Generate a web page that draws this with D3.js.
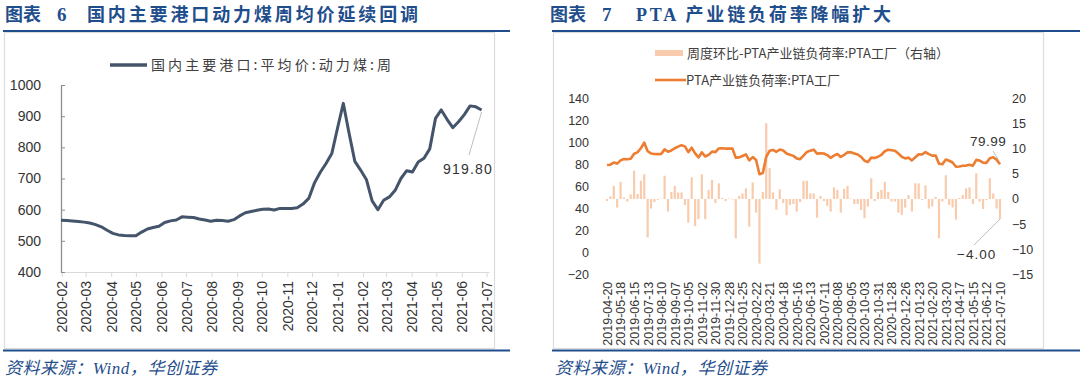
<!DOCTYPE html>
<html><head><meta charset="utf-8">
<script src="https://cdn.jsdelivr.net/npm/d3@7"></script>
<style>body{margin:0;background:#fff}svg{display:block}</style>
</head><body><svg id="c" width="1080" height="391"></svg>
<script>
// ---------- data: left chart (weekly coal price) ----------
const coalStartDate = "2020-01-31";
const coalPrice = [566,565,564,562,560,557,552,545,534,524,519,517,516,516,528,538,543,547,559,564,
  567,577,576,575,570,567,563,566,565,563,568,580,590,594,598,601,602,599,604,604,
  604,606,618,636,686,720,748,780,862,941,845,755,727,697,628,600,630,641,662,700,
  725,721,753,765,795,893,920,890,863,882,905,933,930,919.8];
const coalYTicks = [400,500,600,700,800,900,1000];
const coalMonthTicks = ["2020-02","2020-03","2020-04","2020-05","2020-06","2020-07","2020-08","2020-09","2020-10","2020-11","2020-12","2021-01","2021-02","2021-03","2021-04","2021-05","2021-06","2021-07"];
const coalSeriesName = "国内主要港口:平均价:动力煤:周";

// ---------- data: right chart (PTA load rate) ----------
const ptaStartDate = "2019-04-20";
const ptaLoad = [79.3,79.6,81.5,80.6,83.5,84.8,84.5,85.0,89.5,90.8,94.5,99.5,91.8,89.8,89.3,89.2,89.4,93.5,91.3,92.5,
  94.5,96.0,97.3,96.2,91.0,95.0,89.8,86.2,90.8,87.0,88.5,91.5,91.0,94.3,94.5,94.2,94.3,94.2,86.0,86.2,
  87.5,89.0,83.5,86.5,83.8,71.0,72.0,86.8,92.2,93.0,91.3,93.3,92.5,89.8,88.6,87.6,85.3,84.6,87.8,91.2,
  92.3,93.2,89.6,90.0,89.7,88.3,85.8,87.8,89.3,86.6,88.4,90.8,90.8,89.8,88.8,86.7,83.2,82.0,86.0,85.6,
  86.8,88.6,91.8,93.2,92.7,92.2,89.7,86.8,85.3,86.0,83.5,86.3,89.0,88.8,91.0,89.2,87.8,88.0,80.5,80.0,
  84.3,83.2,81.6,77.8,78.0,78.6,78.8,79.6,78.7,84.0,83.3,81.4,81.3,85.5,86.3,84.2,79.99];
const ptaWoW = [-0.4,0.5,2.6,-1.7,3.4,0.3,-0.5,0.9,5.6,1.0,3.6,4.9,-7.6,-1.9,-0.6,-0.2,0.1,4.6,-2.5,1.4,
  2.6,1.3,1.3,-1.2,-4.7,4.3,-5.4,-4.0,4.9,-4.0,1.8,3.8,-0.8,3.1,0.2,-0.4,0.1,-0.1,-7.8,0.6,
  1.1,2.1,-5.5,3.3,-2.7,-12.8,1.4,15.0,6.1,1.3,-2.1,1.9,-0.8,-3.2,-1.2,-1.0,-2.5,-0.6,3.6,3.6,
  1.1,1.1,-3.7,0.6,-0.4,-1.4,-2.5,2.3,1.8,-2.7,2.0,2.6,0.1,-1.0,-1.0,-2.2,-3.8,-1.5,4.1,-0.4,
  1.4,1.8,3.4,1.4,-0.5,-0.5,-2.7,-3.2,-1.7,0.8,-2.5,3.1,3.1,-0.2,2.7,-1.9,-1.5,0.4,-7.8,-0.5,
  4.7,-1.2,-1.7,-4.1,0.2,0.8,2.1,2.3,-1.0,5.1,-0.5,-2.0,-0.2,4.1,1.1,-1.9,-4.0];
const ptaLeftTicks = [-20,0,20,40,60,80,100,120,140];
const ptaRightTicks = [-15,-10,-5,0,5,10,15,20];
const ptaBarName = "周度环比-PTA产业链负荷率:PTA工厂（右轴）";
const ptaLineName = "PTA产业链负荷率:PTA工厂";

// ---------- drawing ----------
const svg = d3.select("#c");
const BLUE = "#1f4e8c";
const CJK = "'Noto Sans CJK SC', sans-serif";
const LAT = "'Liberation Sans', Arial, sans-serif";

function frame(ruleX0, ruleX1, boxX0, boxX1) {
  svg.append("rect").attr("x", boxX0 + 0.5).attr("y", 32.5).attr("width", boxX1 - boxX0).attr("height", 316)
    .attr("fill", "none").attr("stroke", "#dcdcdc").attr("stroke-width", 1.2);
  [31, 350.5].forEach(y => svg.append("line").attr("x1", ruleX0).attr("x2", ruleX1).attr("y1", y).attr("y2", y)
    .attr("stroke", BLUE).attr("stroke-width", 2));
}
frame(3, 510, 4, 494);
frame(552, 1080, 553, 1043);

function title(x, num, text, textX, textLen) {
  const g = svg.append("g").attr("fill", BLUE).attr("font-weight", 700);
  g.append("text").attr("x", x).attr("y", 21).attr("font-family", CJK).attr("font-size", 18).text("图表");
  g.append("text").attr("x", x + 52).attr("y", 21).attr("font-family", "'Liberation Serif', serif").attr("font-size", 19).text(num);
  g.append("text").attr("x", textX).attr("y", 21).attr("font-family", "'Liberation Serif', " + CJK).attr("font-size", 18)
    .attr("textLength", textLen).attr("lengthAdjust", "spacing").text(text);
}
title(5, "6", "国内主要港口动力煤周均价延续回调", 87, 331);
title(550, "7", "PTA 产业链负荷率降幅扩大", 636, 255);

function source(x) {
  svg.append("text").attr("x", x).attr("y", 374).attr("fill", BLUE).attr("font-size", 17).attr("font-style", "italic")
    .attr("font-family", "'Liberation Serif', " + CJK)
    .attr("textLength", 212).attr("lengthAdjust", "spacing").text("资料来源：Wind，华创证券");
}
source(5); source(555);

// ===== left chart =====
const parse = d3.utcParse("%Y-%m-%d");
const c0 = parse(coalStartDate);
const coalDates = coalPrice.map((_, i) => d3.utcDay.offset(c0, 7 * i));
const xL = d3.scaleUtc().domain([c0, d3.utcDay.offset(c0, 520)]).range([61, 489]);
const yL = d3.scaleLinear().domain([400, 1000]).range([272, 85]);
const monthParse = d3.utcParse("%Y-%m");

const gxL = svg.append("g").attr("transform", "translate(0,272)")
  .call(d3.axisBottom(xL).tickValues(coalMonthTicks.map(monthParse)).tickSize(5).tickSizeOuter(0).tickFormat(d3.utcFormat("%Y-%m")));
gxL.select(".domain").attr("stroke", "#d9d9d9");
gxL.selectAll(".tick line").attr("stroke", "#d9d9d9");
gxL.selectAll(".tick text").attr("font-family", LAT).attr("font-size", 14).attr("fill", "#333")
  .attr("transform", "rotate(-90)").attr("text-anchor", "end").attr("x", -9).attr("y", 0).attr("dy", "0.35em");

const gyL = svg.append("g").attr("transform", "translate(61,0)")
  .call(d3.axisLeft(yL).tickValues(coalYTicks).tickSize(-4).tickSizeOuter(0).tickPadding(20).tickFormat(d3.format("d")));
gyL.select(".domain").attr("stroke", "#8c8c8c").attr("stroke-width", 1.3);
gyL.selectAll(".tick line").attr("stroke", "#8c8c8c");
gyL.selectAll(".tick text").attr("font-family", LAT).attr("font-size", 14).attr("fill", "#333");

svg.append("path").datum(coalPrice)
  .attr("d", d3.line().x((d, i) => xL(coalDates[i])).y(d => yL(d)).curve(d3.curveLinear))
  .attr("fill", "none").attr("stroke", "#44546a").attr("stroke-width", 3).attr("stroke-linejoin", "round");

// legend left
svg.append("line").attr("x1", 110).attr("x2", 147).attr("y1", 65).attr("y2", 65).attr("stroke", "#44546a").attr("stroke-width", 3.5);
svg.append("text").attr("x", 151).attr("y", 70).attr("font-family", CJK).attr("font-size", 14).attr("fill", "#404040")
  .attr("textLength", 240).attr("lengthAdjust", "spacing").text(coalSeriesName);

// annotation left
const lastC = coalPrice.length - 1;
svg.append("line").attr("x1", xL(coalDates[lastC])).attr("y1", yL(coalPrice[lastC]) + 2).attr("x2", 469).attr("y2", 155)
  .attr("stroke", "#bfbfbf").attr("stroke-width", 1);
svg.append("text").attr("x", 443).attr("y", 174).attr("font-family", LAT).attr("font-size", 14).attr("fill", "#333")
  .attr("letter-spacing", 1.2).text(d3.format(".2f")(coalPrice[lastC]));

// ===== right chart =====
const p0 = parse(ptaStartDate);
const ptaDates = ptaLoad.map((_, i) => d3.utcDay.offset(p0, 7 * i));
const idx = d3.range(ptaLoad.length);
const xR = d3.scalePoint().domain(idx).range([607, 1000]);
const yRL = d3.scaleLinear().domain([-20, 140]).range([274.7, 98]);
const yRR = d3.scaleLinear().domain([-15, 20]).range([274.7, 98]);
const fmtD = d3.utcFormat("%Y-%m-%d");

const gxR = svg.append("g").attr("transform", "translate(0,274.7)")
  .call(d3.axisBottom(xR).tickValues(idx.filter(i => i % 4 === 0)).tickSize(0).tickFormat(i => fmtD(ptaDates[i])));
gxR.select(".domain").remove();
gxR.selectAll(".tick text").attr("font-family", LAT).attr("font-size", 12.5).attr("fill", "#333")
  .attr("transform", "rotate(-90)").attr("text-anchor", "end").attr("x", -7).attr("y", 0).attr("dy", "0.35em");

const gyRL = svg.append("g").attr("transform", "translate(607,0)")
  .call(d3.axisLeft(yRL).tickValues(ptaLeftTicks).tickSize(0).tickPadding(18));
gyRL.select(".domain").remove();
gyRL.selectAll(".tick text").attr("font-family", LAT).attr("font-size", 12.5).attr("fill", "#333");

const gyRR = svg.append("g").attr("transform", "translate(1000,0)")
  .call(d3.axisRight(yRR).tickValues(ptaRightTicks).tickSize(0).tickPadding(12));
gyRR.select(".domain").remove();
gyRR.selectAll(".tick text").attr("font-family", LAT).attr("font-size", 12.5).attr("fill", "#333");

svg.append("g").selectAll("rect").data(ptaWoW).join("rect")
  .attr("x", (d, i) => xR(i) - 1.1).attr("width", 2.2)
  .attr("y", d => yRR(Math.max(d, 0))).attr("height", d => Math.abs(yRR(d) - yRR(0)))
  .attr("fill", "#f8cbad");

svg.append("path").datum(ptaLoad)
  .attr("d", d3.line().x((d, i) => xR(i)).y(d => yRL(d)))
  .attr("fill", "none").attr("stroke", "#ed7d31").attr("stroke-width", 2.6).attr("stroke-linejoin", "round");

// legend right
svg.append("rect").attr("x", 655).attr("y", 50).attr("width", 28).attr("height", 6).attr("fill", "#f8cbad");
svg.append("text").attr("x", 687).attr("y", 58).attr("font-family", CJK).attr("font-size", 13).attr("fill", "#404040")
  .attr("textLength", 262).attr("lengthAdjust", "spacing").text(ptaBarName);
svg.append("line").attr("x1", 655).attr("x2", 686).attr("y1", 80).attr("y2", 80).attr("stroke", "#ed7d31").attr("stroke-width", 2.6);
svg.append("text").attr("x", 686).attr("y", 85).attr("font-family", CJK).attr("font-size", 13).attr("fill", "#404040")
  .attr("textLength", 154).attr("lengthAdjust", "spacing").text(ptaLineName);

// annotations right
const lastP = ptaLoad.length - 1;
svg.append("line").attr("x1", xR(lastP) - 2).attr("y1", yRL(ptaLoad[lastP]) - 5).attr("x2", 993).attr("y2", 151)
  .attr("stroke", "#bfbfbf").attr("stroke-width", 1);
svg.append("text").attr("x", 970).attr("y", 146).attr("font-family", LAT).attr("font-size", 13.5).attr("fill", "#333")
  .attr("letter-spacing", 0.5).text(d3.format(".2f")(ptaLoad[lastP]));
svg.append("line").attr("x1", xR(lastP)).attr("y1", yRR(ptaWoW[lastP])).attr("x2", 974).attr("y2", 245)
  .attr("stroke", "#bfbfbf").attr("stroke-width", 1);
svg.append("text").attr("x", 957).attr("y", 259).attr("font-family", LAT).attr("font-size", 13.5).attr("fill", "#333")
  .attr("letter-spacing", 1).text(d3.format(".2f")(ptaWoW[lastP]).replace("-", "−"));
</script></body></html>
